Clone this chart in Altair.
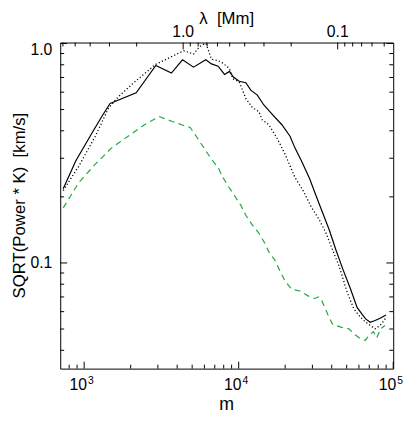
import altair as alt
import pandas as pd

# ---------------- data ----------------
solid_m = [732, 882, 1124, 1301, 1472, 2171, 2910, 3671, 4331, 5104, 6127, 6668, 7357, 8100,
           8715, 9241, 10088, 11128, 11970, 13207, 14543, 16444, 19036, 21492, 23121, 25504,
           28800, 31450, 34830, 38580, 42560, 46870, 53020, 58360, 62810, 66300, 71030, 76400,
           82190, 89740]
solid_v = [0.218, 0.2915, 0.391, 0.4647, 0.533, 0.5958, 0.7935, 0.733, 0.843, 0.780, 0.843,
           0.807, 0.788, 0.723, 0.746, 0.703, 0.6726, 0.663, 0.6126, 0.5816, 0.5245, 0.4769,
           0.4264, 0.3778, 0.3345, 0.2915, 0.2419, 0.205, 0.1701, 0.1412, 0.1148, 0.0950,
           0.0759, 0.0627, 0.0585, 0.0556, 0.0537, 0.0547, 0.0560, 0.0579]

dot_m = [732, 925, 1181, 1435, 1662, 2121, 2910, 4408, 5104, 5596, 5905, 6153, 6668, 7357,
         7911, 8715, 9160, 10088, 11128, 12270, 13520, 14210, 15650, 17690, 19980, 23121,
         26120, 29520, 33340, 36770, 40500, 44670, 50430, 55630, 61360, 66010, 71030, 76400,
         82190, 87170, 89740]
dot_v = [0.2137, 0.2768, 0.3778, 0.5064, 0.5715, 0.6677, 0.8044, 0.927, 0.895, 0.969, 0.990,
         1.0, 0.847, 0.836, 0.813, 0.768, 0.691, 0.6677, 0.5615, 0.51, 0.4893, 0.449, 0.4264,
         0.371, 0.3126, 0.2452, 0.2137, 0.1797, 0.1566, 0.1365, 0.1148, 0.0966, 0.0733,
         0.0617, 0.0566, 0.0539, 0.0519, 0.0501, 0.0519, 0.0546, 0.0566]

green_m = [732, 925, 1181, 1506, 1923, 2455, 3058, 3715, 4408, 4855, 5490, 6045, 6668, 7357,
           7911, 8513, 9376, 10342, 11128, 12270, 13520, 14760, 15810, 17080, 18570, 19980,
           22030, 24880, 28090, 30980, 32850, 34180, 37640, 40500, 45780, 51700, 55630, 61360,
           66010, 70310, 74540, 78230, 82920, 88450]
green_v = [0.1782, 0.2329, 0.2818, 0.3345, 0.3778, 0.4264, 0.4647, 0.4412, 0.4232, 0.4146,
           0.365, 0.3291, 0.2967, 0.2721, 0.2452, 0.2251, 0.2029, 0.1829, 0.1649, 0.1487,
           0.1365, 0.123, 0.1109, 0.1035, 0.0914, 0.0827, 0.0759, 0.0745, 0.0708, 0.0689,
           0.0700, 0.0684, 0.0585, 0.0525, 0.0510, 0.0501, 0.0476, 0.0452, 0.0444, 0.0471,
           0.0486, 0.0456, 0.0501, 0.0519]

# axis ticks
m_major = [1000, 10000, 100000]
m_minor = [800, 900, 2000, 3000, 4000, 5000, 6000, 7000, 8000, 9000,
           20000, 30000, 40000, 50000, 60000, 70000, 80000, 90000]
m_base = ["10", "10", "10"]
m_exp = ["3", "4", "5"]

v_major = [0.1, 1.0]
v_labels = ["0.1", "1.0"]
v_minor = [0.04, 0.05, 0.06, 0.07, 0.08, 0.09, 0.2, 0.3, 0.4, 0.5, 0.6, 0.7, 0.8, 0.9]

lam_major = [1.0, 0.1]
lam_labels = ["1.0", "0.1"]
lam_minor = [6, 5, 4, 3, 2, 0.9, 0.8, 0.7, 0.6, 0.5, 0.4, 0.3, 0.2,
             0.09, 0.08, 0.07, 0.06, 0.05]
circumference_mm = 4373.1  # 2*pi*R_sun in Mm : lambda = C / m

x_title = "m"
y_title = "SQRT(Power * K)\u00a0\u00a0[km/s]"
top_title = "λ\u00a0\u00a0[Mm]"

# ---------------- layout ----------------
W, H = 338, 331
FONT = "Liberation Sans"
xs = alt.Scale(type="log", domain=[700, 100000], nice=False)
ys = alt.Scale(type="log", domain=[0.033, 1.01], nice=False)

X = lambda: alt.X("m:Q", scale=xs, axis=None)
Y = lambda: alt.Y("v:Q", scale=ys, axis=None)

solid = alt.Chart(pd.DataFrame({"m": solid_m, "v": solid_v})).mark_line(
    color="black", strokeWidth=1.2).encode(x=X(), y=Y())
dotted = alt.Chart(pd.DataFrame({"m": dot_m, "v": dot_v})).mark_line(
    color="black", strokeWidth=1.3, strokeDash=[1.2, 2.3]).encode(x=X(), y=Y())
dashed = alt.Chart(pd.DataFrame({"m": green_m, "v": green_v})).mark_line(
    color="#22a83a", strokeWidth=1.2, strokeDash=[6, 4.5]).encode(x=X(), y=Y())


def xticks(vals, y0, y1):
    return alt.Chart(pd.DataFrame({"m": vals})).mark_rule(color="black", strokeWidth=1).encode(
        x=X(), y=alt.value(y0), y2=alt.value(y1))


def lamticks(vals, y0, y1):
    return alt.Chart(pd.DataFrame({"lam": vals})).transform_calculate(
        m=f"{circumference_mm} / datum.lam").mark_rule(color="black", strokeWidth=1).encode(
        x=X(), y=alt.value(y0), y2=alt.value(y1))


def yticks(vals, x0, x1):
    return alt.Chart(pd.DataFrame({"v": vals})).mark_rule(color="black", strokeWidth=1).encode(
        y=Y(), x=alt.value(x0), x2=alt.value(x1))


ticks = [
    xticks(m_major, H, H - 7), xticks(m_minor, H, H - 4),
    lamticks(lam_major, 0, 7), lamticks(lam_minor, 0, 4),
    yticks(v_major, 0, 7), yticks(v_minor, 0, 4),
    yticks(v_major, W, W - 7), yticks(v_minor, W, W - 4),
]

# bottom labels 10^n
lab_df = pd.DataFrame({"m": m_major, "base": m_base, "exp": m_exp})
base_txt = alt.Chart(lab_df).mark_text(font=FONT, fontSize=16, align="right",
                                       baseline="alphabetic", dx=3, color="black").encode(
    x=X(), y=alt.value(H + 22), text="base:N")
exp_txt = alt.Chart(lab_df).mark_text(font=FONT, fontSize=10.5, align="left",
                                      baseline="alphabetic", dx=4, color="black").encode(
    x=X(), y=alt.value(H + 16), text="exp:N")

# left labels
ylab_df = pd.DataFrame({"v": v_major, "label": v_labels})
ylab_low = alt.Chart(ylab_df).transform_filter("datum.v < 0.5").mark_text(
    font=FONT, fontSize=16, align="right", baseline="middle", color="black").encode(
    y=Y(), x=alt.value(-8), text="label:N")
ylab_top = alt.Chart(ylab_df).transform_filter("datum.v > 0.5").mark_text(
    font=FONT, fontSize=16, align="right", baseline="top", dy=-1, color="black").encode(
    y=Y(), x=alt.value(-8), text="label:N")

# top labels (lambda)
top_lab = alt.Chart(pd.DataFrame({"lam": lam_major, "label": lam_labels})).transform_calculate(
    m=f"{circumference_mm} / datum.lam").mark_text(font=FONT, fontSize=16, align="center",
                                                  baseline="alphabetic", color="black").encode(
    x=X(), y=alt.value(-6), text="label:N")

# titles
top_ttl = alt.Chart(pd.DataFrame({"t": [top_title]})).mark_text(
    font=FONT, fontSize=17, align="center", baseline="alphabetic", color="black").encode(
    x=alt.value(W / 2), y=alt.value(-19), text="t:N")
x_ttl = alt.Chart(pd.DataFrame({"t": [x_title]})).mark_text(
    font=FONT, fontSize=18, align="center", baseline="alphabetic", color="black").encode(
    x=alt.value(W / 2), y=alt.value(H + 42), text="t:N")
y_ttl = alt.Chart(pd.DataFrame({"t": [y_title]})).mark_text(
    font=FONT, fontSize=17, align="center", baseline="alphabetic", angle=270,
    color="black").encode(x=alt.value(-36), y=alt.value(H / 2), text="t:N")

chart = alt.layer(solid, dotted, dashed, *ticks, base_txt, exp_txt, ylab_low, ylab_top,
                  top_lab, top_ttl, x_ttl, y_ttl).properties(
    width=W, height=H,
    autosize=alt.AutoSizeParams(type="none"),
    padding={"left": 53, "top": 32, "right": 14, "bottom": 43},
    background="white",
).configure_view(stroke="black", strokeWidth=1)

chart.save("out.html", embed_options={"renderer": "svg", "actions": False})
